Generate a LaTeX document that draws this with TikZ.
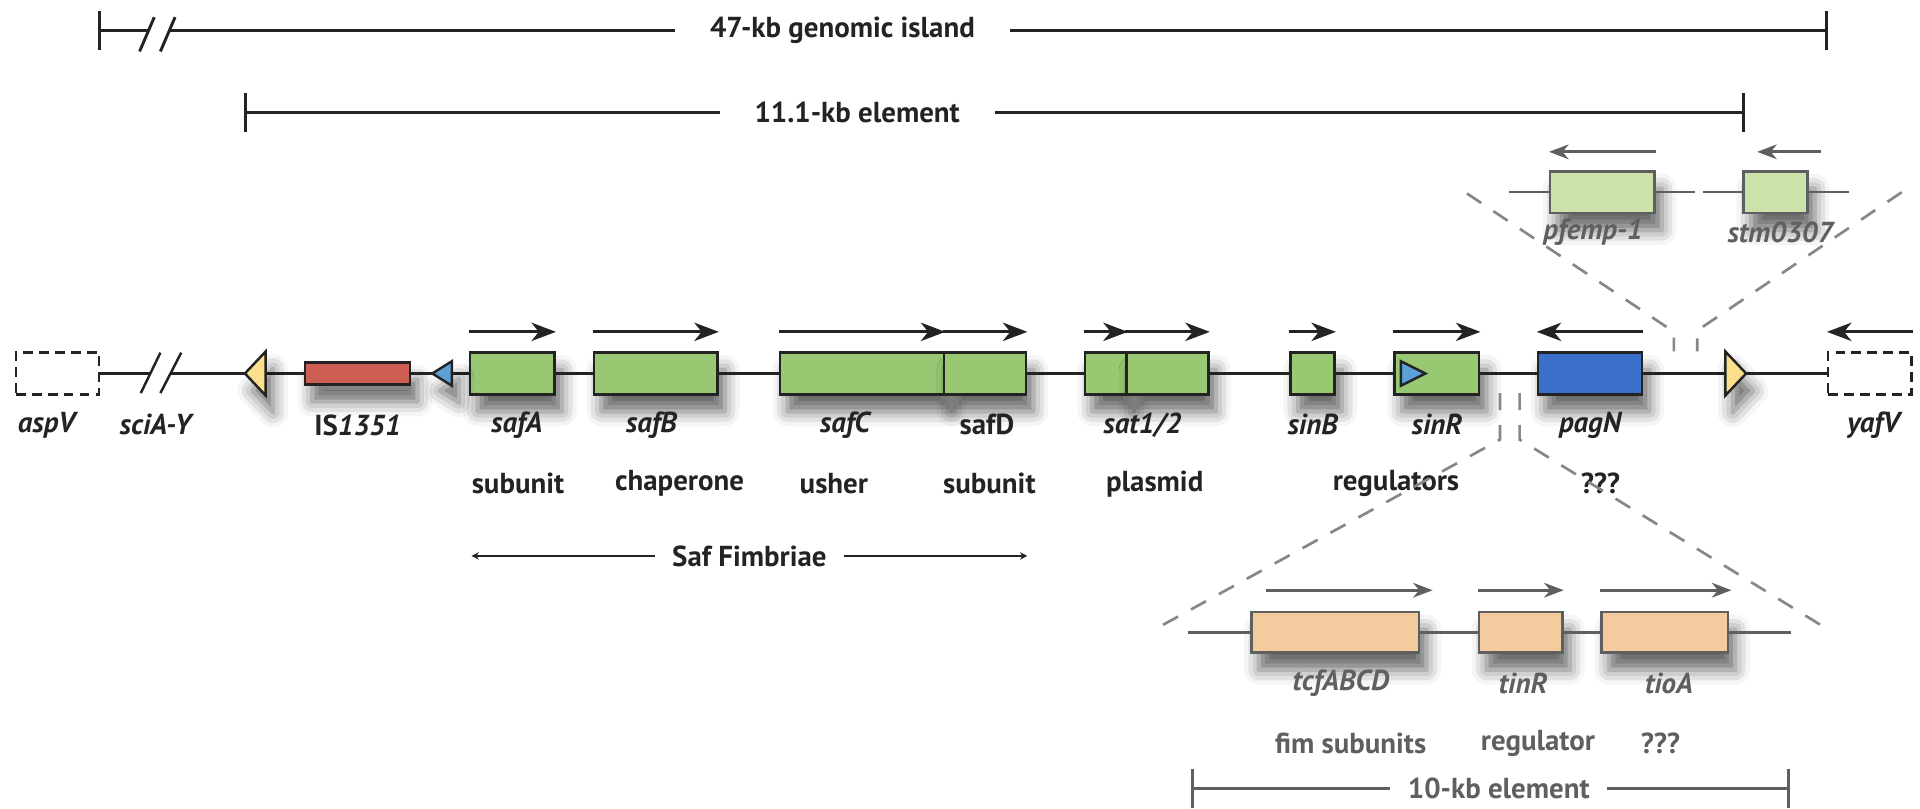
\documentclass[tikz,border=0pt]{standalone}
\usepackage{fontspec}
\setmainfont{PT Sans}
\usetikzlibrary{arrows.meta,positioning,shadows.blur}

\definecolor{GeneGreen}{RGB}{152,200,114}
\definecolor{PaleGreen}{RGB}{203,226,170}
\definecolor{Peach}{RGB}{243,203,158}
\definecolor{ISRed}{RGB}{206,94,84}
\definecolor{PagBlue}{RGB}{58,112,202}
\definecolor{SiteBlue}{RGB}{92,160,216}
\definecolor{SiteYellow}{RGB}{250,224,140}
\definecolor{InkBlack}{RGB}{35,35,35}
\definecolor{InsetGrey}{RGB}{95,95,95}
\definecolor{ZoomGrey}{RGB}{135,135,135}

\tikzset{
  softshadow/.style={blur shadow={shadow xshift=3pt,shadow yshift=-7pt,shadow blur radius=6pt,shadow opacity=60}},
  gene/.style={rectangle,draw=InkBlack,line width=1pt,fill=GeneGreen,minimum height=17pt,inner sep=0pt,softshadow},
  ghost/.style={rectangle,draw=InkBlack,line width=1pt,dash pattern=on 4pt off 2.5pt,minimum width=34pt,minimum height=17pt,inner sep=0pt},
  insetgene/.style={gene,draw=InsetGrey,fill=PaleGreen},
  tcfgene/.style={gene,draw=InsetGrey,fill=Peach,minimum height=16.5pt},
  site/.style={draw=InkBlack,line width=1pt,softshadow},
  mainline/.style={draw=InkBlack,line width=1pt},
  insetline/.style={draw=InsetGrey,line width=1pt},
  dirarrow/.style={draw=InkBlack,line width=1.2pt,-{Stealth[length=10pt,width=7.5pt,inset=3pt]}},
  insetarrow/.style={draw=InsetGrey,line width=1.1pt,-{Stealth[length=8pt,width=6pt,inset=2.5pt]}},
  genename/.style={font=\fontsize{11.8}{13}\selectfont\bfseries\itshape,text=InkBlack,inner sep=1pt},
  role/.style={font=\fontsize{11.8}{13}\selectfont\bfseries,text=InkBlack,inner sep=1pt},
  barlabel/.style={role,inner xsep=14pt},
  scalebar/.style={draw=InkBlack,line width=1.2pt},
  zoomline/.style={draw=ZoomGrey,line width=1.1pt,dash pattern=on 7pt off 6pt}
}

\begin{document}
\begin{tikzpicture}[x=0.5pt,y=-0.5pt]
\useasboundingbox (0,0) rectangle (1568,660);

% scale bars on top
\node[barlabel] (island) at (688,25) {47-kb genomic island};
\coordinate (islandL) at (80,25);
\coordinate (islandR) at (1493,25);
\coordinate (brkA) at (122,25);
\coordinate (brkB) at (139,25);
\draw[scalebar,{Bar[width=16pt]}-] (islandL) -- (brkA);
\draw[scalebar] (brkB) -- (island.west);
\draw[scalebar,-{Bar[width=16pt]}] (island.east) -- (islandR);
\draw[scalebar] (114,42) -- (126,14) (131,42) -- (143,14);

\node[barlabel] (element) at (700,92) {11.1-kb element};
\coordinate (elementL) at (199,92);
\coordinate (elementR) at (1425,92);
\draw[scalebar,{Bar[width=16pt]}-] (elementL) -- (element.west);
\draw[scalebar,-{Bar[width=16pt]}] (element.east) -- (elementR);

% main locus
\node[ghost] (aspV) at (47,305) {};
\node[gene,fill=ISRed,minimum width=43pt,minimum height=9pt] (IS) at (292,305) {};
\node[gene,minimum width=34.5pt] (safA) at (418.5,305) {};
\node[gene,minimum width=50.5pt] (safB) at (535.5,305) {};
\node[gene,minimum width=67pt] (safC) at (704,305) {};
\node[gene,minimum width=33.5pt] (safD) at (804.5,305) {};
\node[gene,minimum width=17pt] (sat1) at (903,305) {};
\node[gene,minimum width=33.5pt] (sat2) at (953.5,305) {};
\node[gene,minimum width=18pt] (sinB) at (1072,305) {};
\node[gene,minimum width=34.5pt] (sinR) at (1173.5,305) {};
\node[gene,fill=PagBlue,minimum width=42.5pt] (pagN) at (1298.5,305) {};
\node[ghost] (yafV) at (1527,305) {};

\coordinate (brk1) at (123,305);
\coordinate (brk2) at (139.5,305);
\draw[mainline] (aspV.east) -- (brk1) (brk2) -- (IS.west);
\draw[mainline] (IS.east) -- (safA.west) (safA.east) -- (safB.west)
  (safB.east) -- (safC.west) (safD.east) -- (sat1.west) (sat2.east) -- (sinB.west)
  (sinB.east) -- (sinR.west) (sinR.east) -- (pagN.west) (pagN.east) -- (yafV.west);
\draw[mainline] (115,321) -- (131,288) (131,321) -- (148,288);

% repeat sites
\draw[site,fill=SiteYellow] (200,305) -- (217,287) -- (217,323) -- cycle;
\draw[site,fill=SiteBlue] (353,305) -- (369,295) -- (369,315) -- cycle;
\draw[line width=1pt,draw=InkBlack,fill=SiteBlue] (1164,305) -- (1144,295) -- (1144,315) -- cycle;
\draw[site,fill=SiteYellow] (1426,305) -- (1409,287) -- (1409,323) -- cycle;

% direction of transcription
\foreach \g in {safA,safB,safC,safD,sat1,sat2,sinB,sinR}
  \draw[dirarrow] ([yshift=8pt]\g.north west) -- ([yshift=8pt]\g.north east);
\draw[dirarrow] ([yshift=8pt]pagN.north east) -- ([yshift=8pt]pagN.north west);
\draw[dirarrow] ([yshift=8pt]yafV.north east) -- ([yshift=8pt]yafV.north west);

% gene names and roles
\coordinate (namerow) at (0,347);
\coordinate (rolerow) at (0,395);
\node[genename] (aspVname) at (38,347) {aspV};
\node[genename] (sciname) at (127,347) {sciA-Y};
\node[genename] (ISname) at (IS |- namerow) {\upshape IS\itshape1351};
\node[genename] (safAname) at (422,347) {safA};
\node[genename] (safBname) at (532,347) {safB};
\node[genename] (safCname) at (690,347) {safC};
\node[genename,font=\fontsize{11.8}{13}\selectfont\bfseries] (safDname) at (806,347) {safD};
\node[genename] (satname) at (933,347) {sat1/2};
\node[genename] (sinBname) at (sinB |- namerow) {sinB};
\node[genename] (sinRname) at (sinR |- namerow) {sinR};
\node[genename] (pagNname) at (pagN |- namerow) {pagN};
\node[genename] (yafVname) at (1530,347) {yafV};

\node[role] (safArole) at (423,395) {subunit};
\node[role] (safBrole) at (555,395) {chaperone};
\node[role] (safCrole) at (681,395) {usher};
\node[role] (safDrole) at (808,395) {subunit};
\node[role] (satrole) at (943,395) {plasmid};
\node[role] (sinrole) at (1140,395) {regulators};
\node[role] (pagNrole) at (1307,395) {???};

% fimbrial operon span
\node[role,inner xsep=7pt] (saf) at (612,454) {Saf Fimbriae};
\coordinate (safL) at (385,454);
\coordinate (safR) at (839,454);
\draw[mainline,-{Stealth[length=3pt,width=3pt]}] (saf.west) -- (safL);
\draw[mainline,-{Stealth[length=3pt,width=3pt]}] (saf.east) -- (safR);

% zoom guides
\draw[zoomline] (1198,158) -- (1367,271) -- (1367,287);
\draw[zoomline] (1553,157) -- (1386,270) -- (1386,287);
\draw[zoomline] (1225,321) -- (1225,359) -- (943,514);
\draw[zoomline] (1241,321) -- (1241,359) -- (1496,516);

% upper inset
\node[insetgene,minimum width=42.5pt] (pfemp) at (1308.5,157) {};
\node[insetgene,minimum width=26pt] (stm) at (1450,157) {};
\draw[insetline] (pfemp.west) -- ++(-33,0) (pfemp.east) -- ++(32,0);
\draw[insetline] (stm.west) -- ++(-32,0) (stm.east) -- ++(33,0);
\draw[insetarrow] ([yshift=7.5pt]pfemp.north east) -- ([yshift=7.5pt]pfemp.north west);
\draw[insetarrow] ([xshift=5pt,yshift=7.5pt]stm.north east) -- ([xshift=6pt,yshift=7.5pt]stm.north west);
\node[genename,text=InsetGrey] (pfempname) at (1301,190) {pfemp-1};
\node[genename,text=InsetGrey] (stmname) at (1454,190) {stm0307};

% lower inset
\node[tcfgene,minimum width=68.5pt] (tcf) at (1090.5,516.5) {};
\node[tcfgene,minimum width=34pt] (tinR) at (1242,516.5) {};
\node[tcfgene,minimum width=51.5pt] (tioA) at (1359.5,516.5) {};
\draw[insetline] (tcf.west) -- ++(-51,0) (tcf.east) -- (tinR.west) (tinR.east) -- (tioA.west) (tioA.east) -- ++(51,0);
\draw[insetarrow] ([xshift=6.5pt,yshift=8.5pt]tcf.north west) -- ([xshift=5pt,yshift=8.5pt]tcf.north east);
\draw[insetarrow] ([yshift=8.5pt]tinR.north west) -- ([yshift=8.5pt]tinR.north east);
\draw[insetarrow] ([yshift=8.5pt]tioA.north west) -- ([xshift=1pt,yshift=8.5pt]tioA.north east);

\node[genename,text=InsetGrey] (tcfname) at (1095,558) {tcfABCD};
\node[genename,text=InsetGrey] (tinRname) at (1244,558) {tinR};
\node[genename,text=InsetGrey] (tioAname) at (1363,558) {tioA};
\node[role,text=InsetGrey] (tcfrole) at (1103,607) {fim subunits};
\node[role,text=InsetGrey] (tinRrole) at (1256,607) {regulator};
\node[role,text=InsetGrey] (tioArole) at (1356,607) {???};

\node[role,text=InsetGrey,inner xsep=7pt] (tenkb) at (1224,644) {10-kb element};
\coordinate (tenkbL) at (973,644);
\coordinate (tenkbR) at (1462,644);
\draw[insetline,line width=1.2pt,{Bar[width=16pt]}-] (tenkbL) -- (tenkb.west);
\draw[insetline,line width=1.2pt,-{Bar[width=16pt]}] (tenkb.east) -- (tenkbR);
\end{tikzpicture}
\end{document}
